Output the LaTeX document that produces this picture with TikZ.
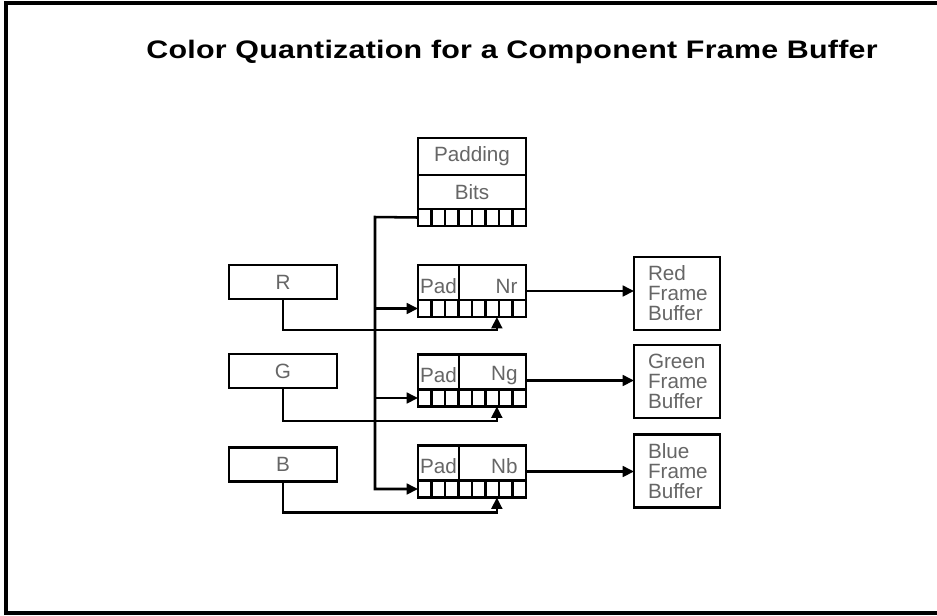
\documentclass[tikz,border=0pt]{standalone}
\usepackage{fontspec}
\setmainfont{Liberation Sans}
\newfontfamily\titlefont[FakeStretch=1.2,LetterSpace=1]{Liberation Sans}
\usetikzlibrary{arrows.meta,calc,positioning}

\def\pxl{0.75pt}

\begin{document}
\begin{tikzpicture}[
  x=0.75pt,y=-0.75pt,
  line/.style={draw=black,line width=1.9pt},
  arr/.style={-{Triangle[length=8.5pt,width=8pt]},draw=black,line width=1.9pt},
  box/.style={rectangle,draw=black,line width=2.1pt,inner sep=0pt,outer sep=0pt,fill=white},
  cellline/.style={draw=black,line width=1.7pt},
  lab/.style={font=\fontsize{15.5}{15}\selectfont,text=black!60},
  cellrow/.style={box,minimum width=108*\pxl,minimum height=17*\pxl},
  padfield/.style={box,lab,minimum width=41*\pxl,minimum height=35*\pxl,text height=16pt},
  numfield/.style={box,lab,minimum width=67*\pxl,minimum height=35*\pxl,text height=16pt,text width=50*\pxl,align=right},
  inbox/.style={box,lab,minimum width=108*\pxl,minimum height=34*\pxl},
  fbbox/.style={box,lab,minimum width=86*\pxl,minimum height=73*\pxl,text width=58*\pxl,align=left}
]
\useasboundingbox (0,0) rectangle (937,615);

% ---------------- frame and title ----------------
\draw[line width=2.5pt] (937,3) -- (6,3) -- (6,613) -- (937,613);
\node[font=\titlefont\bfseries\fontsize{19}{21}\selectfont] (title) at (512,52)
  {Color Quantization for a Component Frame Buffer};

% ---------------- padding bits register ----------------
\node[box,lab,minimum width=108*\pxl,minimum height=37*\pxl] (padding) at (472,156.5) {Padding};
\node[box,lab,minimum width=108*\pxl,minimum height=34*\pxl,below=0pt of padding] (bits) {Bits};
\node[cellrow,below=0pt of bits] (padcells) {};

% ---------------- quantized registers ----------------
\node[padfield] (padr) at (438.5,282.5) {Pad};
\node[numfield,right=0pt of padr] (nr) {Nr};
\node[cellrow,anchor=north west] (cellsr) at (padr.south west) {};

\node[padfield] (padg) at (438.5,372) {Pad};
\node[numfield,right=0pt of padg] (ng) {Ng};
\node[cellrow,anchor=north west] (cellsg) at (padg.south west) {};

\node[padfield] (padb) at (438.5,463) {Pad};
\node[numfield,right=0pt of padb] (nb) {Nb};
\node[cellrow,anchor=north west] (cellsb) at (padb.south west) {};

\foreach \c in {padcells,cellsr,cellsg,cellsb}
  \foreach \i in {1,...,7}
    \draw[cellline] ($(\c.south west)!\i/8!(\c.south east)$) -- ($(\c.north west)!\i/8!(\c.north east)$);

% ---------------- colour inputs ----------------
\node[inbox] (inr) at (283,282) {R};
\node[inbox] (ing) at (283,371) {G};
\node[inbox] (inb) at (283,464.5) {B};

% ---------------- frame buffers ----------------
\node[fbbox] (redfb) at (677,293.5) {Red\\Frame\\Buffer};
\node[fbbox] (greenfb) at (677,381.5) {Green\\Frame\\Buffer};
\node[fbbox] (bluefb) at (677,471) {Blue\\Frame\\Buffer};

% ---------------- padding bus ----------------
\coordinate (busx) at (375,217);
\draw[arr] (padcells.west) -- (busx) -- (busx |- cellsb.west) -- (cellsb.west);
\draw[arr] (busx |- cellsr.west) -- (cellsr.west);
\draw[arr] (busx |- cellsg.west) -- (cellsg.west);

% ---------------- colour values into low bits ----------------
\foreach \k/\drop in {r/31,g/33,b/31}{
  \coordinate (tap\k) at ($(cells\k.south west)!0.73!(cells\k.south east)$);
  \draw[arr] (in\k.south) -- ++(0,\drop) -| (tap\k);
}

% ---------------- outputs to frame buffers ----------------
\foreach \k/\fb in {r/redfb,g/greenfb,b/bluefb}{
  \coordinate (mid\k) at ($(n\k.north east)!0.5!(cells\k.south east)$);
  \draw[arr] (mid\k) -- (mid\k -| \fb.west);
}

\end{tikzpicture}
\end{document}
